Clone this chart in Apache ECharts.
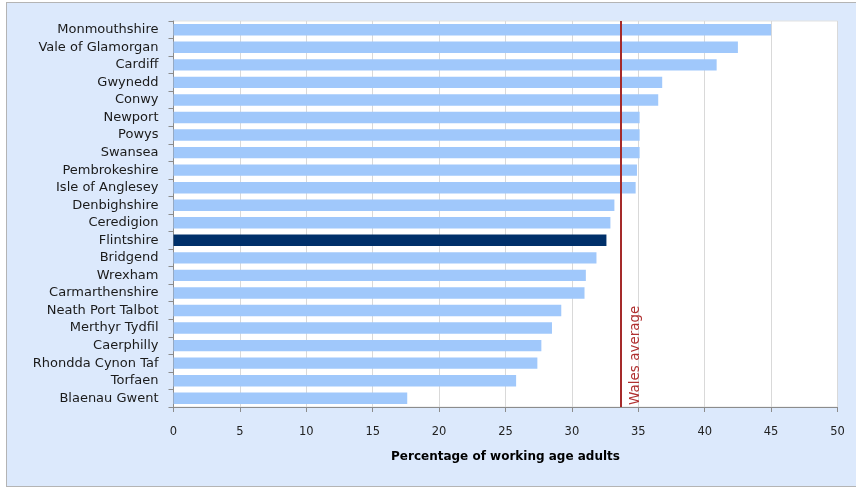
<!DOCTYPE html>
<html>
<head>
<meta charset="utf-8">
<script src="https://cdn.jsdelivr.net/npm/echarts@6/dist/echarts.min.js"></script>
<style>
html,body{margin:0;padding:0;background:#ffffff;overflow:hidden;}
#frame{position:absolute;left:6px;top:2px;width:860px;height:483px;background:#dce9fc;border:1px solid #b4b4b4;}
#chart{position:absolute;left:0;top:0;width:856px;height:488px;}
</style>
</head>
<body>
<div id="frame"></div>
<div id="chart"></div>
<script>
const categories = ["Monmouthshire","Vale of Glamorgan","Cardiff","Gwynedd","Conwy","Newport","Powys","Swansea","Pembrokeshire","Isle of Anglesey","Denbighshire","Ceredigion","Flintshire","Bridgend","Wrexham","Carmarthenshire","Neath Port Talbot","Merthyr Tydfil","Caerphilly","Rhondda Cynon Taf","Torfaen","Blaenau Gwent"];
const values = [45.0,42.5,40.9,36.8,36.5,35.1,35.1,35.1,34.9,34.8,33.2,32.9,32.6,31.85,31.05,30.95,29.2,28.5,27.7,27.4,25.8,17.6];
const highlight = "Flintshire";
const walesAverage = 33.7;
const xTicks = {min:0, max:50, interval:5};
const axisTitle = "Percentage of working age adults";
const avgLabel = "Wales average";

// bottom-to-top order so the average line runs upward
const catsBU = categories.slice().reverse();
const valsBU = values.slice().reverse();

const chart = echarts.init(document.getElementById('chart'), null, {renderer:'canvas'});
chart.setOption({
  backgroundColor:'transparent',
  animation:false,
  grid:{left:173.5,right:18.5,top:21,bottom:81,show:true,backgroundColor:'#ffffff',borderWidth:1,borderColor:'#e2e2e2'},
  xAxis:{
    type:'value',min:xTicks.min,max:xTicks.max,interval:xTicks.interval,
    name:axisTitle,nameLocation:'middle',nameGap:44,
    nameTextStyle:{fontFamily:'DejaVu Sans',fontWeight:'bold',fontSize:12,color:'#000'},
    axisLine:{show:true,lineStyle:{color:'#8c8c8c',width:1}},
    axisTick:{show:true,length:5,lineStyle:{color:'#8c8c8c'}},
    axisLabel:{fontFamily:'DejaVu Sans',fontSize:11.5,color:'#222',margin:19},
    splitLine:{show:true,lineStyle:{color:'#d9d9d9',width:1}}
  },
  yAxis:{
    type:'category',data:catsBU,
    axisLine:{show:true,lineStyle:{color:'#8c8c8c',width:1}},
    axisTick:{show:true,length:5,lineStyle:{color:'#8c8c8c'}},
    axisLabel:{fontFamily:'DejaVu Sans',fontSize:13,color:'#1a1a1a',margin:15}
  },
  series:[{
    type:'bar',
    data:valsBU.map((v,i)=>({value:v,itemStyle:{color:catsBU[i]===highlight?'#00306a':'#a0c8fb'}})),
    barWidth:'65%',
    markLine:{
      silent:true,symbol:'none',
      lineStyle:{color:'#a52a2a',width:2,type:'solid'},
      label:{show:true,formatter:avgLabel,position:'insideStartBottom',color:'#b03030',fontFamily:'DejaVu Sans',fontSize:13.5,distance:[2,7]},
      data:[{xAxis:walesAverage}]
    }
  }]
});
</script>
</body>
</html>
